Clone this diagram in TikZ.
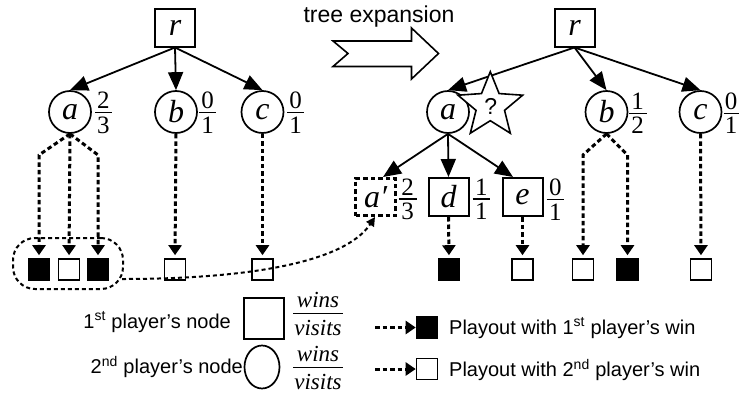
\documentclass[tikz,border=0pt]{standalone}
\usepackage{fontspec}
\setmainfont{Liberation Sans}
\newfontfamily\tms{Liberation Serif}
\usetikzlibrary{arrows.meta,calc,shapes.geometric}

% fonts
\newcommand\lett{\tms\itshape\fontsize{32}{36}\selectfont}
\newcommand\digs{\tms\fontsize{25}{29}\selectfont}
\newcommand\wrds{\tms\itshape\fontsize{23}{27}\selectfont}
\newcommand\lgfont{\fontsize{20}{24}\selectfont}

% a fraction: name, left end of the rule, rule length, numerator, denominator, style prefix
\newcommand\fracat[6]{%
  \coordinate (#1) at (#2);
  \draw[fracrule] (#1) -- ++(#3,0) coordinate (#1r);
  \coordinate (#1m) at ($(#1)!0.5!(#1r)$);
  \node[#6num] (#1n) at (#1m) {#4};
  \node[#6den] (#1d) at (#1m) {#5};
}

\begin{document}
\begin{tikzpicture}[x=1pt,y=-1pt,
  pone/.style={draw, line width=2pt, minimum width=40pt, minimum height=38pt, inner sep=0pt, font=\lett},
  ptwo/.style={draw, circle, line width=1.7pt, minimum size=42pt, inner sep=0pt, font=\lett},
  winone/.style={draw, fill=black, line width=1.6pt, minimum size=21pt, inner sep=0pt},
  wintwo/.style={draw, fill=white, line width=1.6pt, minimum size=21pt, inner sep=0pt},
  edge/.style={line width=1.8pt, -{Triangle[length=18pt,width=15pt]}},
  play/.style={line width=3pt, dash pattern=on 4.5pt off 3pt, shorten >=3pt,
               -{Triangle[length=10pt,width=13pt]}},
  fracrule/.style={line width=1.5pt},
  dignum/.style={font=\digs, inner sep=0pt, anchor=base, yshift=4pt},
  digden/.style={font=\digs, inner sep=0pt, anchor=base, yshift=-20.5pt},
  wrdnum/.style={font=\wrds, inner sep=0pt, anchor=base, yshift=5.5pt},
  wrdden/.style={font=\wrds, inner sep=0pt, anchor=base, yshift=-22pt},
  lgtext/.style={font=\lgfont, inner sep=0pt},
]
\useasboundingbox (0,0) rectangle (739,394);

% ---------- tree before expansion ----------
\node[pone] (r1) at (175,27.5) {r};
\node[ptwo] (a1) at (70,112) {a};
\node[ptwo] (b1) at (176,112) {b};
\node[ptwo] (c1) at (262.5,112) {c};
\draw[edge] (r1.south) -- (a1.north);
\draw[edge] (r1.south) -- (b1.north);
\draw[edge] (r1.south) -- (c1.north);
\fracat{fa1}{95.2,112.7}{16.5}{2}{3}{dig}
\fracat{fb1}{199,112.7}{17}{0}{1}{dig}
\fracat{fc1}{287,112.7}{17}{0}{1}{dig}

% playouts
\node[winone] (s1) at (39,269.5) {};
\node[wintwo] (s2) at (69,269.5) {};
\node[winone] (s3) at (98,269.5) {};
\node[wintwo] (s4) at (175,269.5) {};
\node[wintwo] (s5) at (262.5,269.5) {};
\draw[play] (a1.south) -- (s1.north |- 0,155) -- (s1.north);
\draw[play] (a1.south) -- (s2.north);
\draw[play] (a1.south) -- (s3.north |- 0,155) -- (s3.north);
\draw[play] (b1.south) -- (s4.north);
\draw[play] (c1.south) -- (s5.north);

% group of playouts of a
\node[draw, line width=2pt, dash pattern=on 4pt off 3pt, rounded corners=22pt,
      minimum width=110pt, minimum height=51pt, inner sep=0pt] (grp) at (68,263.5) {};

% ---------- expansion arrow ----------
\node[font=\fontsize{23}{27}\selectfont, inner sep=0pt] (title) at (379,17) {tree expansion};
\draw[line width=1.6pt, line join=miter, fill=white]
  (333,41) -- (411.5,41) -- (411.5,28) -- (438.5,53.5) -- (411.5,79)
  -- (411.5,66.5) -- (333,66.5) -- (348,53.5) -- cycle;

% ---------- tree after expansion ----------
\node[pone] (r2) at (574.5,27.5) {r};
\node[ptwo] (a2) at (448,112) {a};
\node[ptwo] (b2) at (606.5,112) {b};
\node[ptwo] (c2) at (700.5,112) {c};
\draw[edge] (r2.south) -- (a2.north);
\draw[edge] (r2.south) -- (b2.north);
\draw[edge] (r2.south) -- (c2.north);
\fracat{fb2}{628.5,113.3}{18}{1}{2}{dig}
\fracat{fc2}{723.5,113.3}{15}{0}{1}{dig}

% the unknown move
\coordinate (sc) at (490.3,105.7);
\draw[line width=1.6pt, line join=miter, fill=white]
  ($(sc)+(-90:34)$) -- ($(sc)+(-54:15)$) -- ($(sc)+(-18:34)$) -- ($(sc)+(18:15)$)
  -- ($(sc)+(54:34)$) -- ($(sc)+(90:15)$) -- ($(sc)+(126:34)$) -- ($(sc)+(162:15)$)
  -- ($(sc)+(198:34)$) -- ($(sc)+(234:15)$) -- cycle;
\node[font=\fontsize{23}{27}\selectfont, inner sep=0pt] (qs) at (490.7,106.7) {?};

% new children of a
\node[pone, line width=3pt, dash pattern=on 4.5pt off 3pt, minimum width=40pt, minimum height=37pt] (a2p) at (375.5,197) {a′};
\node[pone] (d2) at (448.5,197) {d};
\node[pone] (e2) at (522.5,197) {e};
\draw[edge] (a2.south) -- ([xshift=7.5pt]a2p.north);
\draw[edge] (a2.south) -- (d2.north);
\draw[edge] (a2.south) -- ([xshift=-9.5pt]e2.north);
\fracat{fa2}{398.5,199}{18}{2}{3}{dig}
\fracat{fd2}{472.5,199}{17.5}{1}{1}{dig}
\fracat{fe2}{546.5,199.5}{17.5}{0}{1}{dig}

% playouts
\node[winone] (t1) at (449,269.5) {};
\node[wintwo] (t2) at (522.5,269.5) {};
\node[wintwo] (t3) at (583,269.5) {};
\node[winone] (t4) at (627.5,269.5) {};
\node[wintwo] (t5) at (701,269.5) {};
\draw[play] (d2.south) -- (t1.north);
\draw[play] (e2.south) -- (t2.north);
\draw[play] (b2.south) -- (t3.north |- 0,155) -- (t3.north);
\draw[play] (b2.south) -- (t4.north |- 0,155) -- (t4.north);
\draw[play] (c2.south) -- (t5.north);

% the group of playouts becomes the statistics of a'
\coordinate (gout) at ($(grp.east)+(-2,15.5)$);
\draw[line width=2pt, dash pattern=on 4pt off 3pt, -{Triangle[length=9pt,width=9pt]}]
  (gout) .. controls (250,279) and (345,262) .. ([xshift=-0.5pt]a2p.south);

% ---------- legend ----------
\node[lgtext, anchor=east] (lt1) at (231,322) {1\textsuperscript{st} player's node};
\node[lgtext, anchor=east] (lt2) at (243,367) {2\textsuperscript{nd} player's node};
\node[draw, line width=1.8pt, minimum width=40pt, minimum height=41pt, inner sep=0pt] (lg1) at (264,318.5) {};
\node[draw, ellipse, line width=1.7pt, minimum width=35pt, minimum height=43pt, inner sep=0pt] (lg2) at (262,367) {};
\fracat{fl1}{293.3,313.3}{49.4}{wins}{visits}{wrd}
\fracat{fl2}{293.3,367.3}{49.4}{wins}{visits}{wrd}

\coordinate (ld1) at (375,327.5);
\coordinate (ld2) at (375,369);
\node[winone] (lw1) at (427,327.5) {};
\node[wintwo] (lw2) at (427,369) {};
\draw[play, shorten >=0pt] (ld1) -- (lw1.west);
\draw[play, shorten >=0pt] (ld2) -- (lw2.west);
\node[lgtext, anchor=west] (lp1) at (449,328) {Playout with 1\textsuperscript{st} player's win};
\node[lgtext, anchor=west] (lp2) at (449,370) {Playout with 2\textsuperscript{nd} player's win};
\end{tikzpicture}
\end{document}
